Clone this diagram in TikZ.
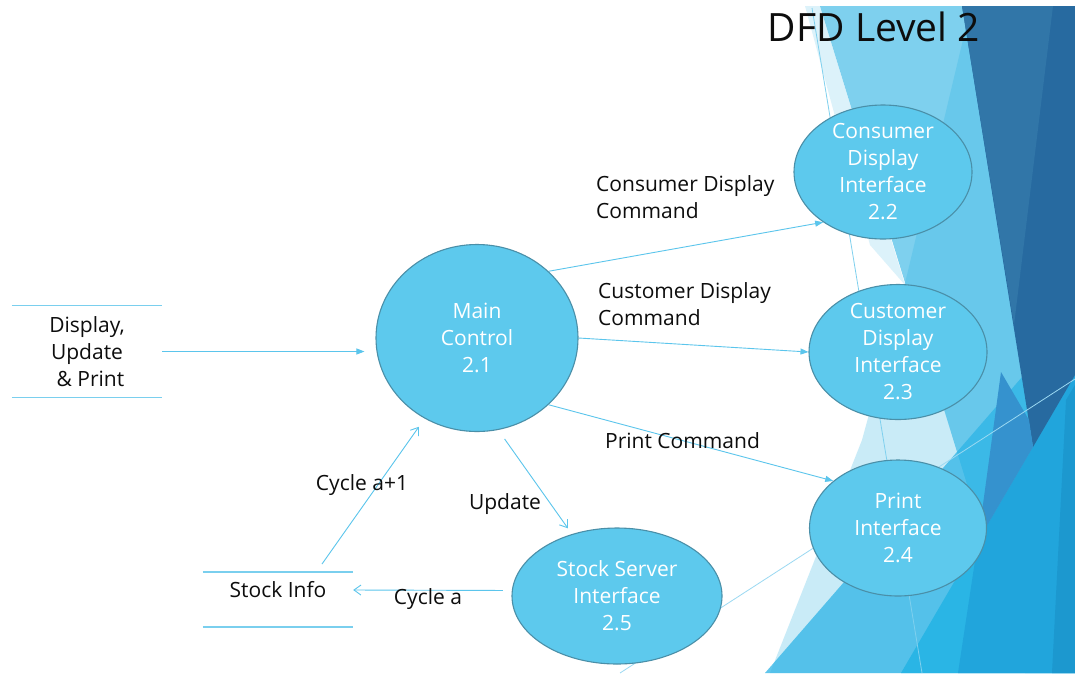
\documentclass[tikz,border=0pt]{standalone}
\usepackage{fontspec}
\setmainfont{Open Sans}
\usetikzlibrary{arrows.meta,shapes.geometric,calc}
\definecolor{procfill}{HTML}{5DC9ED}
\definecolor{procdraw}{HTML}{4A8FA8}
\definecolor{flowc}{HTML}{5BC5EC}
\definecolor{storec}{HTML}{7ACFEE}
\definecolor{txt}{HTML}{0D0D0D}
\definecolor{tb}{HTML}{28B1E3}
\definecolor{l5c}{HTML}{2DB4E6}
\definecolor{brightA}{HTML}{2AB5E5}
\definecolor{brightB}{HTML}{21A5DC}
\definecolor{brightC}{HTML}{1C98CF}
\definecolor{darkb}{HTML}{276AA0}
\definecolor{darkl}{HTML}{3176A8}
\definecolor{medb}{HTML}{3592CE}
\definecolor{bgl}{HTML}{7FD0EE}
\definecolor{bgl2}{HTML}{9BD9F2}
\begin{document}
\begin{tikzpicture}[x=1pt,y=-1pt,
  proc/.style={ellipse, fill=procfill, draw=procdraw, line width=1.1pt, text=white, align=center, inner sep=-10pt, font=\fontsize{21}{27}\selectfont},
  lbl/.style={text=txt, align=left, inner sep=0pt, font=\fontsize{21}{27}\selectfont},
  titlestyle/.style={text=txt, inner sep=0pt, font=\fontsize{39}{44}\selectfont},
  store/.style={draw=storec, line width=1.1pt},
  flowF/.style={draw=flowc, line width=0.9pt, -{Triangle[length=8pt,width=6pt]}},
  flowO/.style={draw=flowc, line width=0.9pt, -{Straight Barb[length=7pt,width=10pt]}},
  bgline/.style={draw=bgl, line width=0.8pt},
  bgline2/.style={draw=bgl2, line width=0.8pt}]
% background
\fill[white] (0,0) rectangle (1075,673);
\useasboundingbox (0,0) rectangle (1075,673);
\fill[tb, fill opacity=0.25] (971,6) -- (907,275) -- (862,440) -- (770,673) -- (1075,673) -- (1075,6) -- cycle;
\fill[tb, fill opacity=0.6] (820,6) -- (1075,6) -- (1075,673) -- (1025,673) -- cycle;
\fill[tb, fill opacity=0.16] (805,6) -- (820,6) -- (905,285) -- (870,245) -- cycle;
\fill[l5c, fill opacity=0.75] (765,673) -- (1075,316) -- (1075,673) -- cycle;
\fill[brightA] (1075,375) -- (901,673) -- (1075,673) -- cycle;
\fill[brightB] (1075,375) -- (978,541) -- (958,673) -- (1075,673) -- cycle;
\fill[brightC] (1075,385) -- (1066,400) -- (1052,673) -- (1075,673) -- cycle;
\fill[darkb] (962,6) -- (1075,6) -- (1075,375) -- (1033,447) -- cycle;
\fill[darkl] (962,6) -- (1053,6) -- (1014,325) -- cycle;
\fill[medb] (1001,372) -- (1029,420) -- (1033,447) -- (978,541) -- cycle;
\draw[bgline] (812,8) -- (922,673);
\draw[bgline2] (620,673) -- (1075,379);
% title
\node[titlestyle] (title) at (874,27) {DFD Level 2};
% processes
\node[proc, minimum width=202pt, minimum height=187pt] (main) at (477,338) {Main\\Control\\2.1};
\node[proc, minimum width=178pt, minimum height=134pt] (cons) at (883,172) {Consumer\\Display\\Interface\\2.2};
\node[proc, minimum width=178pt, minimum height=135pt] (cust) at (898,352) {Customer\\Display\\Interface\\2.3};
\node[proc, minimum width=177pt, minimum height=136pt] (print) at (898,528) {Print\\Interface\\2.4};
\node[proc, minimum width=210pt, minimum height=136pt] (stock) at (617,596) {Stock Server\\Interface\\2.5};
% external entities / stores
\node[lbl, align=center, minimum width=150pt, minimum height=91pt] (ext1) at (87,351.5) {Display,\\Update\\\hspace*{7pt}\& Print};
\draw[store] (ext1.north west) -- (ext1.north east);
\draw[store] (ext1.south west) -- (ext1.south east);
\node[lbl, align=center, minimum width=150pt] (ext2) at (278,590) {Stock Info};
\draw[store] ($(ext2.west)+(0,-18)$) -- ($(ext2.east)+(0,-18)$);
\draw[store] ($(ext2.west)+(0,37)$) -- ($(ext2.east)+(0,37)$);
% flows
\draw[flowF, shorten >=11pt] (ext1.east) -- (ext1.east -| main.west);
\draw[flowF] (main.43) -- (cons.220);
\draw[flowF] (main.east) -- (cust.west);
\draw[flowF] (main.-43) -- (print.144);
\draw[flowO, shorten <=11pt, shorten >=7pt] (main.-77) -- (stock.126);
\draw[flowO, shorten <=9pt] (stock.177) -- (ext2.east);
\draw[flowO, shorten >=10pt] ($(ext2.center)+(44,-26)$) -- (main.237);
% flow labels
\node[lbl, anchor=west] (lcons) at (596,197.5) {Consumer Display\\Command};
\node[lbl, anchor=west] (lcust) at (598,304.5) {Customer Display\\Command};
\node[lbl, anchor=west] (lprint) at (605,441) {Print Command};
\node[lbl] (lupd) at (505,504) {Update};
\node[lbl] (lc1) at (362,485) {Cycle a+1};
\node[lbl] (lc0) at (428,599) {Cycle a};
\end{tikzpicture}
\end{document}
